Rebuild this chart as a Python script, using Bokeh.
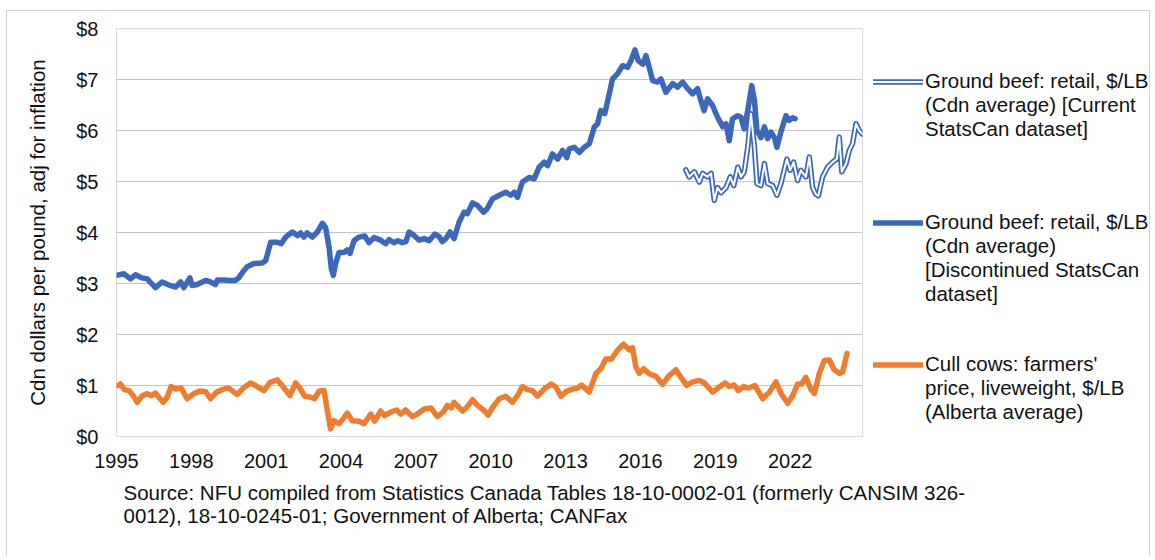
from bokeh.plotting import figure
from bokeh.layouts import column, row
from bokeh.models import Range1d, FixedTicker, Legend, LegendItem, Label
from bokeh.embed import file_html
from bokeh.resources import INLINE

# ---------------- data ----------------
# Ground beef retail, discontinued StatsCan dataset ($/lb, inflation adjusted)
old_beef_dates = [
    1995.00, 1995.29, 1995.56, 1995.76, 1996.03, 1996.23, 1996.56, 1996.83, 1997.10, 1997.37,
    1997.57, 1997.70, 1997.94, 1998.03, 1998.23, 1998.57, 1998.77, 1998.97, 1999.04, 1999.30,
    1999.50, 1999.77, 1999.90, 2000.10, 2000.24, 2000.50, 2000.84, 2000.98, 2001.18, 2001.45,
    2001.60, 2001.78, 2002.05, 2002.25, 2002.38, 2002.51, 2002.64, 2002.85, 2003.05, 2003.25,
    2003.38, 2003.52, 2003.61, 2003.69, 2003.78, 2003.92, 2004.12, 2004.25, 2004.36, 2004.52,
    2004.72, 2004.95, 2005.12, 2005.32, 2005.59, 2005.79, 2005.92, 2006.12, 2006.28, 2006.46,
    2006.60, 2006.73, 2006.93, 2007.13, 2007.33, 2007.53, 2007.76, 2007.93, 2008.06, 2008.20,
    2008.37, 2008.53, 2008.73, 2008.93, 2009.07, 2009.27, 2009.47, 2009.71, 2009.85, 2010.07,
    2010.34, 2010.60, 2010.80, 2010.94, 2011.07, 2011.27, 2011.54, 2011.74, 2011.94, 2012.14,
    2012.28, 2012.47, 2012.68, 2012.88, 2013.05, 2013.15, 2013.35, 2013.55, 2013.75, 2013.95,
    2014.15, 2014.28, 2014.41, 2014.57, 2014.75, 2014.88, 2015.08, 2015.28, 2015.49, 2015.62,
    2015.78, 2015.91, 2016.10, 2016.22, 2016.35, 2016.49, 2016.68, 2016.82, 2017.02, 2017.29,
    2017.49, 2017.69, 2017.89, 2018.09, 2018.29, 2018.42, 2018.55, 2018.69, 2018.89, 2019.09,
    2019.30, 2019.43, 2019.56, 2019.69, 2019.90, 2020.03, 2020.16, 2020.30, 2020.46, 2020.57,
    2020.67, 2020.83, 2020.97, 2021.10, 2021.23, 2021.37, 2021.47, 2021.63, 2021.83, 2021.96,
    2022.10, 2022.20,
]
old_beef_values = [
    3.16, 3.19, 3.09, 3.17, 3.11, 3.09, 2.92, 3.03, 2.97, 2.93,
    3.03, 2.92, 3.11, 2.96, 2.98, 3.06, 3.03, 2.98, 3.07, 3.07,
    3.06, 3.06, 3.11, 3.25, 3.33, 3.39, 3.40, 3.45, 3.81, 3.81,
    3.78, 3.91, 4.01, 3.94, 3.99, 3.91, 3.99, 3.91, 4.01, 4.18,
    4.10, 3.71, 3.29, 3.16, 3.39, 3.61, 3.61, 3.66, 3.59, 3.84,
    3.91, 3.93, 3.80, 3.90, 3.85, 3.78, 3.86, 3.80, 3.84, 3.80,
    3.82, 4.01, 3.94, 3.85, 3.88, 3.84, 3.97, 3.92, 3.82, 3.88,
    4.01, 3.88, 4.20, 4.40, 4.37, 4.58, 4.53, 4.40, 4.46, 4.66,
    4.73, 4.79, 4.73, 4.79, 4.69, 4.99, 5.08, 5.05, 5.28, 5.38,
    5.31, 5.54, 5.44, 5.61, 5.47, 5.64, 5.67, 5.57, 5.67, 5.74,
    6.07, 6.13, 6.39, 6.33, 6.72, 7.01, 7.11, 7.27, 7.24, 7.37,
    7.58, 7.37, 7.30, 7.47, 7.24, 6.98, 6.95, 7.01, 6.75, 6.92,
    6.85, 6.95, 6.82, 6.72, 6.82, 6.59, 6.39, 6.62, 6.49, 6.26,
    6.07, 6.13, 5.80, 6.23, 6.29, 6.26, 6.03, 6.39, 6.88, 6.59,
    6.00, 5.86, 6.07, 5.84, 5.97, 5.86, 5.67, 5.97, 6.29, 6.20,
    6.25, 6.23,
]

# Ground beef retail, current StatsCan dataset
new_beef_dates = [
    2017.82, 2017.95, 2018.16, 2018.36, 2018.49, 2018.69, 2018.83, 2018.96, 2019.09, 2019.23,
    2019.43, 2019.60, 2019.74, 2019.90, 2020.03, 2020.16, 2020.30, 2020.43, 2020.57, 2020.67,
    2020.83, 2020.97, 2021.10, 2021.30, 2021.47, 2021.63, 2021.87, 2022.00, 2022.14, 2022.30,
    2022.43, 2022.63, 2022.77, 2022.90, 2023.03, 2023.13, 2023.30, 2023.50, 2023.70, 2023.87,
    2023.97, 2024.07, 2024.24, 2024.37, 2024.50, 2024.64, 2024.77, 2024.90,
]
new_beef_values = [
    5.23, 5.09, 5.19, 4.99, 5.16, 5.09, 5.16, 4.63, 4.88, 4.78,
    4.88, 5.09, 4.92, 5.28, 5.09, 5.19, 5.67, 6.33, 5.67, 4.96,
    4.92, 5.35, 4.96, 4.92, 4.73, 4.96, 5.44, 5.22, 5.38, 5.02,
    5.22, 5.09, 5.48, 4.88, 4.75, 4.72, 5.09, 5.28, 5.38, 5.44,
    5.87, 5.19, 5.35, 5.61, 5.74, 6.13, 6.00, 5.93,
]

# Cull cows: farmers' price, liveweight (Alberta average)
cull_dates = [
    1995.05, 1995.15, 1995.32, 1995.50, 1995.67, 1995.83, 1996.03, 1996.23, 1996.40, 1996.56,
    1996.87, 1997.03, 1997.19, 1997.37, 1997.59, 1997.83, 1998.10, 1998.34, 1998.57, 1998.77,
    1999.01, 1999.30, 1999.50, 1999.84, 2000.08, 2000.37, 2000.53, 2000.91, 2001.15, 2001.45,
    2001.72, 2001.95, 2002.18, 2002.35, 2002.54, 2002.78, 2002.94, 2003.12, 2003.32, 2003.45,
    2003.58, 2003.71, 2003.92, 2004.12, 2004.25, 2004.45, 2004.72, 2004.92, 2005.19, 2005.35,
    2005.59, 2005.75, 2005.99, 2006.23, 2006.39, 2006.59, 2006.86, 2007.06, 2007.33, 2007.60,
    2007.86, 2008.10, 2008.26, 2008.42, 2008.53, 2008.87, 2009.07, 2009.27, 2009.47, 2009.73,
    2009.90, 2010.07, 2010.34, 2010.60, 2010.87, 2011.07, 2011.27, 2011.47, 2011.67, 2011.87,
    2012.14, 2012.43, 2012.61, 2012.81, 2013.05, 2013.28, 2013.48, 2013.64, 2013.95, 2014.21,
    2014.41, 2014.61, 2014.84, 2015.08, 2015.32, 2015.55, 2015.68, 2015.82, 2015.95, 2016.13,
    2016.35, 2016.62, 2016.89, 2017.09, 2017.42, 2017.62, 2017.86, 2018.09, 2018.36, 2018.56,
    2018.89, 2019.16, 2019.39, 2019.56, 2019.76, 2019.92, 2020.14, 2020.35, 2020.59, 2020.90,
    2021.17, 2021.43, 2021.63, 2021.90, 2022.10, 2022.30, 2022.46, 2022.63, 2022.83, 2022.97,
    2023.17, 2023.37, 2023.57, 2023.77, 2023.97, 2024.10, 2024.28,
]
cull_values = [
    1.00, 1.03, 0.92, 0.90, 0.80, 0.67, 0.80, 0.84, 0.80, 0.85,
    0.67, 0.77, 0.98, 0.93, 0.95, 0.74, 0.84, 0.89, 0.88, 0.74,
    0.87, 0.93, 0.95, 0.82, 0.95, 1.05, 1.01, 0.90, 1.06, 1.11,
    0.95, 0.80, 1.05, 0.95, 0.79, 0.77, 0.74, 0.89, 0.90, 0.51,
    0.15, 0.31, 0.25, 0.37, 0.46, 0.31, 0.30, 0.25, 0.44, 0.30,
    0.50, 0.41, 0.48, 0.52, 0.44, 0.52, 0.39, 0.44, 0.54, 0.56,
    0.39, 0.48, 0.61, 0.56, 0.67, 0.50, 0.59, 0.72, 0.61, 0.51,
    0.42, 0.57, 0.74, 0.79, 0.67, 0.80, 0.98, 0.92, 0.90, 0.79,
    0.93, 1.03, 0.97, 0.79, 0.89, 0.93, 0.95, 1.01, 0.87, 1.23,
    1.33, 1.52, 1.52, 1.69, 1.81, 1.70, 1.74, 1.36, 1.24, 1.33,
    1.23, 1.18, 1.02, 1.16, 1.31, 1.16, 1.00, 1.07, 1.10, 1.05,
    0.87, 0.97, 1.05, 0.98, 1.01, 0.90, 0.98, 0.95, 1.00, 0.74,
    0.87, 1.07, 0.85, 0.65, 0.80, 1.03, 1.03, 1.16, 0.93, 0.84,
    1.24, 1.49, 1.50, 1.31, 1.24, 1.26, 1.63,
]

year_ticks = [1995, 1998, 2001, 2004, 2007, 2010, 2013, 2016, 2019, 2022]
y_ticks = [0, 1, 2, 3, 4, 5, 6, 7, 8]
y_tick_labels = ["$0", "$1", "$2", "$3", "$4", "$5", "$6", "$7", "$8"]

legend_current = ["Ground beef: retail, $/LB", "(Cdn average) [Current", "StatsCan dataset]"]
legend_old = ["Ground beef: retail, $/LB", "(Cdn average)", "[Discontinued StatsCan", "dataset]"]
legend_cull = ["Cull cows: farmers'", "price, liveweight, $/LB", "(Alberta average)"]
y_title = "Cdn dollars per pound, adj for inflation"
source_lines = ["Source: NFU compiled from Statistics Canada Tables 18-10-0002-01 (formerly CANSIM 326-",
                "0012), 18-10-0245-01; Government of Alberta; CANFax"]

# ---------------- styling ----------------
FONT = "Liberation Sans"
FS_TICK = "20px"
FS_TEXT = "20.5px"
TXT = "#111111"
BLUE = "#3D68BA"
ORANGE = "#ED7D31"

W_TOTAL = 1142
W_MAIN = 857
H_MAIN = 470
H_SRC = 75

# ---------------- main chart ----------------
p = figure(width=W_MAIN, height=H_MAIN, output_backend="svg", toolbar_location=None,
           x_range=Range1d(1995, 2024.9), y_range=Range1d(0, 8), title=None,
           min_border_left=109, min_border_right=2, min_border_top=17, min_border_bottom=45,
           background_fill_color="white", border_fill_color="white",
           outline_line_color="#D9D9D9", outline_line_width=1)

p.xgrid.grid_line_color = None
p.ygrid.grid_line_color = "#C4C4C4"
p.ygrid.grid_line_width = 1

p.xaxis.ticker = FixedTicker(ticks=year_ticks)
p.yaxis.ticker = FixedTicker(ticks=y_ticks)
p.yaxis.major_label_overrides = {t: l for t, l in zip(y_ticks, y_tick_labels)}
for ax in (p.xaxis, p.yaxis):
    ax.axis_line_color = None
    ax.major_tick_line_color = None
    ax.minor_tick_line_color = None
    ax.major_tick_in = 0
    ax.major_tick_out = 0
    ax.major_label_text_font = FONT
    ax.major_label_text_font_size = FS_TICK
    ax.major_label_text_color = TXT
p.yaxis.major_label_standoff = 18
p.xaxis.major_label_standoff = 17

p.yaxis.axis_label = y_title
p.yaxis.axis_label_text_font = FONT
p.yaxis.axis_label_text_font_size = FS_TEXT
p.yaxis.axis_label_text_font_style = "normal"
p.yaxis.axis_label_text_color = TXT
p.yaxis.axis_label_standoff = 24

line_kw = dict(line_join="round", line_cap="round")
p.line(old_beef_dates, old_beef_values, line_color=BLUE, line_width=5.5, **line_kw)
p.line(new_beef_dates, new_beef_values, line_color=BLUE, line_width=5.5, **line_kw)
p.line(new_beef_dates, new_beef_values, line_color="white", line_width=2, **line_kw)
p.line(cull_dates, cull_values, line_color=ORANGE, line_width=5.5, **line_kw)

# ---------------- legend panel (right) ----------------
W_LEG = W_TOTAL - W_MAIN
lg = figure(width=W_LEG, height=H_MAIN, output_backend="svg", toolbar_location=None,
            x_range=Range1d(0, 1), y_range=Range1d(0, 1), title=None,
            x_axis_type=None, y_axis_type=None,
            min_border=0, min_border_left=0, min_border_right=0,
            min_border_top=0, min_border_bottom=0,
            background_fill_color="white", border_fill_color="white",
            outline_line_color=None)
# style-only renderers that supply the legend's line samples (their single
# point lies outside the visible range, so they draw nothing themselves)
off = dict(x=[-9], y=[-9])
k_new_outer = lg.line(line_color=BLUE, line_width=5.5, **off, **line_kw)
k_new_inner = lg.line(line_color="white", line_width=2, **off, **line_kw)
k_old = lg.line(line_color=BLUE, line_width=5.5, **off, **line_kw)
k_cull = lg.line(line_color=ORANGE, line_width=5.5, **off, **line_kw)

items = [LegendItem(label=legend_current[0], renderers=[k_new_outer, k_new_inner])]
items += [LegendItem(label=t, renderers=[]) for t in legend_current[1:]]
items += [LegendItem(label=" ", renderers=[]) for _ in range(3)]
items += [LegendItem(label=legend_old[0], renderers=[k_old])]
items += [LegendItem(label=t, renderers=[]) for t in legend_old[1:]]
items += [LegendItem(label=" ", renderers=[]) for _ in range(2)]
items += [LegendItem(label=legend_cull[0], renderers=[k_cull])]
items += [LegendItem(label=t, renderers=[]) for t in legend_cull[1:]]

legend = Legend(items=items, location=(9, 12), orientation="vertical",
                glyph_width=50, glyph_height=23, label_height=23, label_standoff=2,
                padding=0, margin=0, spacing=0,
                border_line_color=None, background_fill_alpha=0,
                label_text_font=FONT, label_text_font_size=FS_TEXT, label_text_color=TXT,
                label_text_baseline="middle")
lg.add_layout(legend)

# ---------------- source note (bottom) ----------------
src = figure(width=W_TOTAL, height=H_SRC, output_backend="svg", toolbar_location=None,
             x_range=Range1d(0, 1), y_range=Range1d(0, 1), title=None,
             x_axis_type=None, y_axis_type=None,
             min_border=0, min_border_left=0, min_border_right=0,
             min_border_top=0, min_border_bottom=0,
             background_fill_color="white", border_fill_color="white",
             outline_line_color=None)
for i, t in enumerate(source_lines):
    src.add_layout(Label(x=116, y=64 - 23 * i, x_units="screen", y_units="screen", text=t,
                         text_font=FONT, text_font_size=FS_TEXT, text_color=TXT,
                         text_align="left", text_baseline="middle"))

layout = column(row(p, lg, spacing=0), src, spacing=0,
                styles={"border": "1px solid #D4D4D4", "border-bottom": "none",
                        "margin-left": "6px", "margin-top": "10px"})

open("out.html", "w").write(file_html(layout, INLINE))
